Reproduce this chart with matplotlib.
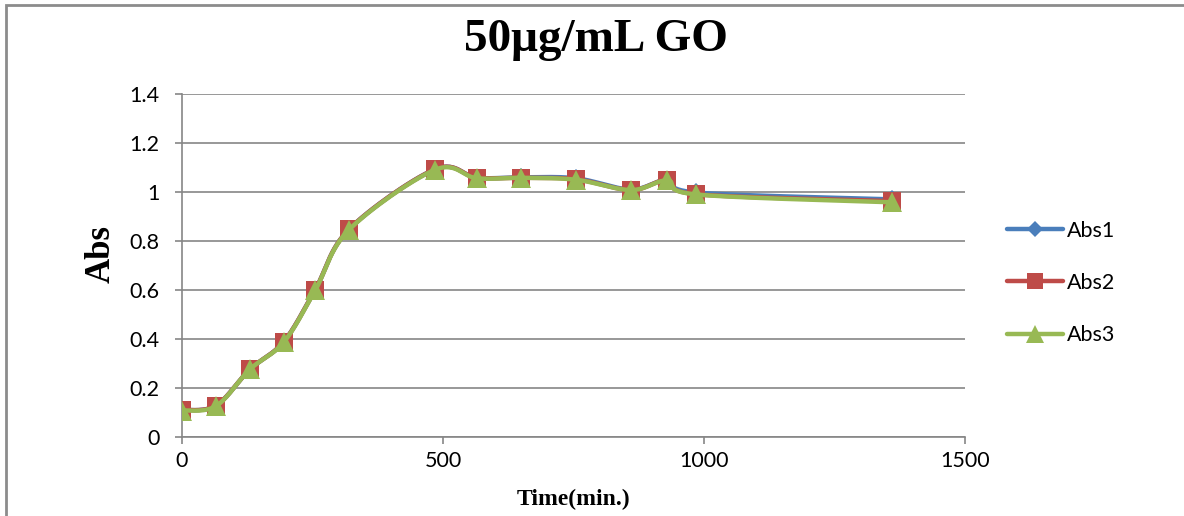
import numpy as np
import matplotlib
matplotlib.use('Agg')
import matplotlib.pyplot as plt
from matplotlib.lines import Line2D
from matplotlib.patches import Rectangle

# data
time_min = [0, 65, 130, 195, 255, 320, 485, 565, 650, 755, 860, 930, 985, 1360]
abs1 = [0.110, 0.128, 0.276, 0.389, 0.600, 0.848, 1.093, 1.058, 1.060, 1.056, 1.010, 1.050, 0.998, 0.970]
abs2 = [0.110, 0.128, 0.276, 0.389, 0.600, 0.848, 1.093, 1.058, 1.058, 1.052, 1.008, 1.049, 0.991, 0.963]
abs3 = [0.108, 0.126, 0.276, 0.387, 0.598, 0.846, 1.091, 1.056, 1.058, 1.050, 1.008, 1.047, 0.990, 0.958]
series_names = ['Abs1', 'Abs2', 'Abs3']
colors = ['#4A7EBB', '#BE4B48', '#98B954']
markers = ['D', 's', '^']
msizes = [9, 13, 15]

title = '50μg/mL GO'
xlabel = 'Time(min.)'
ylabel = 'Abs'


def smooth(x, y, n=30):
    # Excel style smoothed line (Catmull-Rom bezier)
    p = np.column_stack([x, y]).astype(float)
    pts = np.vstack([p[0], p, p[-1]])
    out = []
    t = np.linspace(0, 1, n)[:, None]
    for i in range(1, len(pts) - 2):
        p0, p1, p2, p3 = pts[i - 1], pts[i], pts[i + 1], pts[i + 2]
        c1 = p1 + (p2 - p0) / 6
        c2 = p2 - (p3 - p1) / 6
        seg = ((1 - t) ** 3) * p1 + 3 * ((1 - t) ** 2) * t * c1 + 3 * (1 - t) * t ** 2 * c2 + t ** 3 * p2
        out.append(seg)
    s = np.vstack(out)
    return s[:, 0], s[:, 1]


fig = plt.figure(figsize=(11.84, 5.16), dpi=100)
ax = fig.add_axes([182 / 1184, 1 - 437 / 516, (965 - 182) / 1184, (437 - 94) / 516])

grey = '#868686'
for i, (vals, name) in enumerate(zip([abs1, abs2, abs3], series_names)):
    sx, sy = smooth(time_min, vals)
    ax.plot(sx, sy, color=colors[i], lw=3.2, solid_capstyle='round', zorder=3 + i)
    ax.plot(time_min, vals, linestyle='none', marker=markers[i], markersize=msizes[i],
            color=colors[i], markeredgewidth=0, zorder=3 + i)

ax.set_xlim(0, 1500)
ax.set_ylim(0, 1.4)
ax.set_xticks([0, 500, 1000, 1500])
ax.set_yticks([0, 0.2, 0.4, 0.6, 0.8, 1, 1.2, 1.4])
ax.set_yticklabels(['0', '0.2', '0.4', '0.6', '0.8', '1', '1.2', '1.4'])
ax.grid(axis='y', color=grey, lw=1.2)
ax.set_axisbelow(True)
for s in ['top', 'right']:
    ax.spines[s].set_visible(False)
for s in ['left', 'bottom']:
    ax.spines[s].set_color(grey)
    ax.spines[s].set_linewidth(1.2)
ax.tick_params(axis='both', direction='out', length=5, width=1.2, color=grey,
               labelsize=15.5, labelcolor='black')
ax.tick_params(axis='y', pad=11)
ax.tick_params(axis='x', pad=5)
for lab in ax.get_xticklabels() + ax.get_yticklabels():
    lab.set_family('Lato')

ax.set_xlabel(xlabel, family='Liberation Serif', fontweight='bold', fontsize=17)
ax.xaxis.set_label_coords(0.5, -0.152)
ax.set_ylabel(ylabel, family='Liberation Serif', fontweight='bold', fontsize=25)
ax.yaxis.set_label_coords(-0.082, 0.534)

fig.text(596 / 1184, 1 - 40 / 516, title, ha='center', va='center',
         family='Liberation Serif', fontweight='bold', fontsize=34)

handles = [Line2D([], [], color=colors[i], lw=3.2, marker=markers[i],
                  markersize=msizes[i] * 0.9, markeredgewidth=0, solid_capstyle='round')
           for i in range(3)]
leg = fig.legend(handles, series_names, loc='center left',
                 bbox_to_anchor=(988 / 1184, 1 - 283 / 516), frameon=False,
                 prop={'family': 'Lato', 'size': 15.5}, handlelength=2.6,
                 handletextpad=0.15, labelspacing=1.5)

fig.patches.append(Rectangle((6 / 1184, -0.1), 1.2, 1.1 - 5 / 516, transform=fig.transFigure,
                             fill=False, edgecolor='#8c8c8c', lw=2))

fig.savefig('out.png', dpi=100)
